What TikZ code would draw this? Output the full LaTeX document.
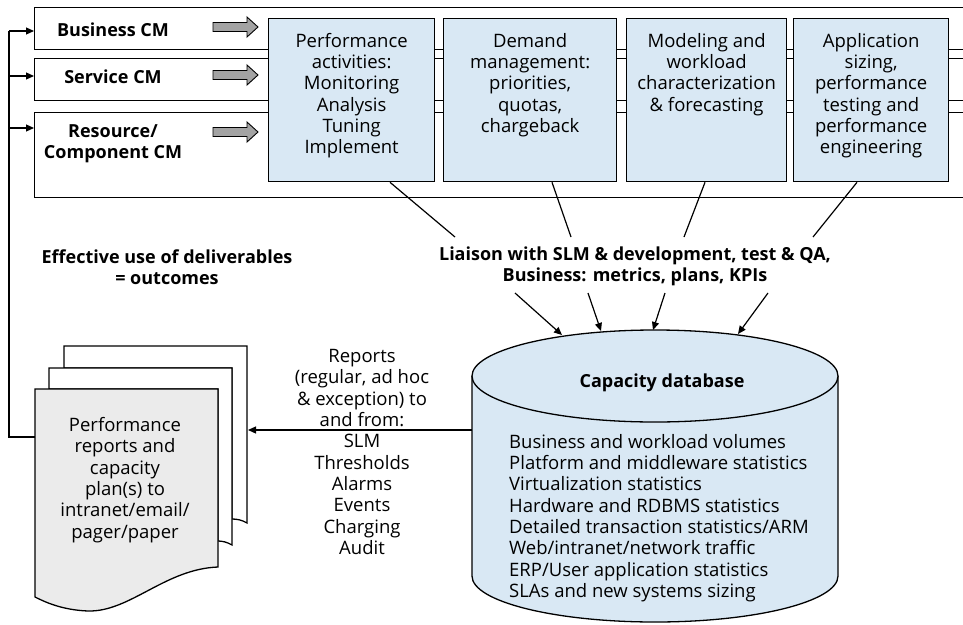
\documentclass[tikz,border=0pt]{standalone}
\usepackage{fontspec}
\setmainfont{Open Sans}
\usetikzlibrary{arrows.meta,calc}

\definecolor{boxblue}{HTML}{D9E8F4}
\definecolor{pagegray}{HTML}{EBEBEB}
\definecolor{arrowgray}{HTML}{A3A3A3}

\begin{document}
\begin{tikzpicture}[x=1pt,y=-1pt,
  txt/.style={font=\fontsize{18.5}{21.3}\selectfont, align=center, inner sep=0pt},
  btxt/.style={txt, font=\fontsize{18}{21.3}\selectfont\bfseries},
  band/.style={draw, line width=1.3pt, fill=white, minimum width=1000pt, anchor=north west, inner sep=0pt},
  actbox/.style={draw, line width=1.3pt, fill=boxblue, anchor=north west, minimum height=163pt, inner sep=0pt},
  blockarrow/.style={draw, line width=0.9pt, fill=arrowgray},
  conn/.style={line width=1.2pt},
  tip/.style={line width=1.2pt, -{Triangle[length=8pt,width=7pt]}},
  page/.style={draw, line width=1.3pt},
]
\useasboundingbox (0,0) rectangle (963,624);
\clip (0,0) rectangle (963,624);

% the three capacity-management bands
\node[band, minimum height=42pt] (band1) at (34,7) {};
\node[band, minimum height=42pt] (band2) at (34,58) {};
\node[band, minimum height=85pt] (band3) at (34,112) {};

\node[btxt] at (113,30) {Business CM};
\node[btxt] at (113,77) {Service CM};
\node[btxt] at (113,144) {Resource/\\Component CM};

% grey block arrows pointing into the activity boxes
\foreach \yy in {27,75,132}{
  \draw[blockarrow] (213,\yy-4.5) -- (247,\yy-4.5) -- (247,\yy-10) -- (258,\yy)
    -- (247,\yy+10) -- (247,\yy+4.5) -- (213,\yy+4.5) -- cycle;
}

% activity boxes
\node[actbox, minimum width=166pt] (act1) at (268,18) {};
\node[actbox, minimum width=173pt] (act2) at (443,18) {};
\node[actbox, minimum width=160pt] (act3) at (626,18) {};
\node[actbox, minimum width=155pt] (act4) at (793,18) {};

\node[txt, anchor=north] at ([yshift=-15pt]act1.north) {Performance\\activities:\\Monitoring\\Analysis\\Tuning\\Implement};
\node[txt, anchor=north] at ([yshift=-15pt]act2.north) {Demand\\management:\\priorities,\\quotas,\\chargeback};
\node[txt, anchor=north] at ([yshift=-15pt]act3.north) {Modeling and\\workload\\characterization\\\& forecasting};
\node[txt, anchor=north] at ([yshift=-15pt]act4.north) {Application\\sizing,\\performance\\testing and\\performance\\engineering};

% liaison label and its connectors
\node[btxt] (liaison) at (635,266) {Liaison with SLM \& development, test \& QA,\\Business: metrics, plans, KPIs};
\node[btxt] (effective) at (167,267) {Effective use of deliverables\\= outcomes};

\coordinate (l1) at (455,237);
\coordinate (l2) at (571,237);
\coordinate (l3) at (684,237);
\coordinate (l4) at (813,237);
\draw[conn] (act1.south -| 390,0) -- (l1);
\draw[conn] (act2.south -| 552,0) -- (l2);
\draw[conn] (act3.south -| 705,0) -- (l3);
\draw[conn] (act4.south -| 857,0) -- (l4);

% capacity database cylinder
\fill[boxblue] (472,376) rectangle (838,576);
\fill[boxblue] (655,576) ellipse [x radius=183, y radius=46];
\draw[line width=1.3pt] (472,376) -- (472,576)
  .. controls (472,601.4) and (554,622) .. (655,622)
  .. controls (756,622) and (838,601.4) .. (838,576) -- (838,376);
\draw[line width=1.3pt, fill=boxblue] (655,376) ellipse [x radius=183, y radius=46];
\node[inner sep=0pt, minimum width=366pt, minimum height=246pt] (db) at (655,453) {};
\node[btxt] at (662,383) {Capacity database};
\node[txt, align=left, anchor=north west] at (509,434) {Business and workload volumes\\Platform and middleware statistics\\Virtualization statistics\\Hardware and RDBMS statistics\\Detailed transaction statistics/ARM\\Web/intranet/network traffic\\ERP/User application statistics\\SLAs and new systems sizing};

\coordinate (d1) at (515,293);
\coordinate (d2) at (588,293);
\coordinate (d3) at (665,293);
\coordinate (d4) at (768,293);
\draw[tip] (d1) -- (562,335);
\draw[tip] (d2) -- (601,331);
\draw[tip] (d3) -- (653,330);
\draw[tip] (d4) -- (738,334);

% report stack
\draw[page, fill=white] (64,346) -- (247,346) -- (247,523) .. controls (242,520) and (237,519) .. (232,519) -- (232,368) -- (64,368) -- cycle;
\draw[page, fill=white] (49,368) -- (232,368) -- (232,545) .. controls (227,542) and (222,541) .. (218,541) -- (218,389) -- (49,389) -- cycle;
\draw[page, fill=pagegray] (35,389) -- (218,389) -- (218,567)
  .. controls (165,569) and (130,612) .. (88,611)
  .. controls (62,610) and (45,602) .. (35,597) -- cycle;
\node[txt] (stack) at (125,480) {Performance\\reports and\\capacity\\plan(s) to\\intranet/email/\\pager/paper};

\coordinate (dbW) at (472,430);
\coordinate (stackE) at (248,430);
\draw[tip] (dbW) -- (stackE);
\node[txt] (reports) at (362,452) {Reports\\(regular, ad hoc\\\& exception) to\\and from:\\SLM\\Thresholds\\Alarms\\Events\\Charging\\Audit};

% feedback loop back to the bands
\coordinate (fb) at (35,437);
\coordinate (fbL) at (9,437);
\draw[conn] (fb) -- (fbL) -- (9,31);
\draw[tip] (9,31) -- (band1.west |- 0,31);
\draw[tip] (9,76) -- (band2.west |- 0,76);
\draw[tip] (9,128) -- (band3.west |- 0,128);
\end{tikzpicture}
\end{document}
